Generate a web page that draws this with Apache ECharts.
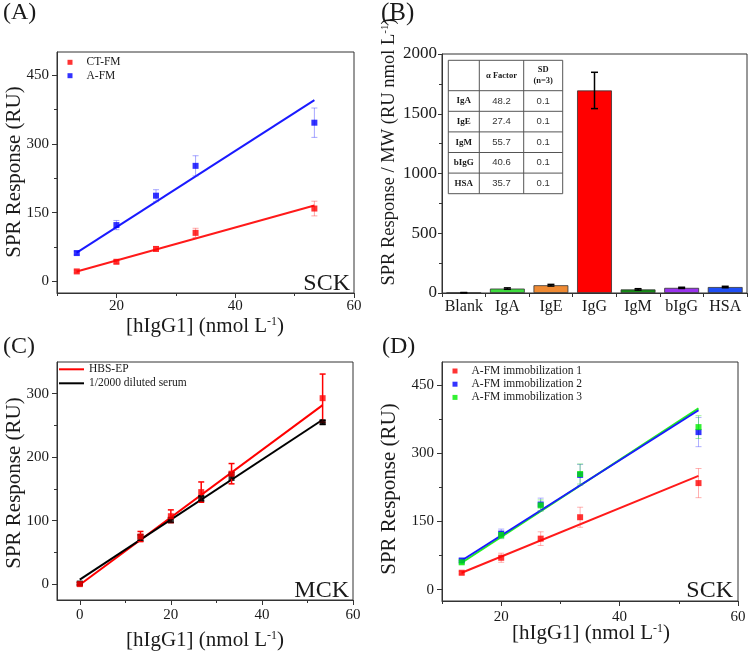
<!DOCTYPE html>
<html><head><meta charset="utf-8">
<script src="https://cdn.jsdelivr.net/npm/echarts@6/dist/echarts.min.js"></script>
<style>html,body{margin:0;padding:0;background:#fff}#c{width:750px;height:655px}</style>
</head><body><div id="c"></div>
<script>
// ---------- DATA ----------
// Panel A
const concA = [13.33, 20, 26.67, 33.33, 53.33];
const ctfmA = [22, 43, 71, 106, 159];
const ctfmAErr = [3, 4, 5, 10, 16];
const afmA = [62, 123, 187, 252, 346];
const afmAErr = [4, 10, 13, 22, 32];
const fitXA = [13.33, 53.33];
const ctfmFitA = [21.9, 165.6];
const afmFitA = [63, 395];
// Panel B
const bCategories = ['Blank', 'IgA', 'IgE', 'IgG', 'IgM', 'bIgG', 'HSA'];
const bValues = [2, 37, 65, 1695, 30, 43, 50];
const bErr = [2, 6, 7, 152, 6, 5, 6];
const tableRows = ['IgA', 'IgE', 'IgM', 'bIgG', 'HSA'];
const alphaFactor = ['48.2', '27.4', '55.7', '40.6', '35.7'];
const sdValues = ['0.1', '0.1', '0.1', '0.1', '0.1'];
// Panel C
const concC = [0, 13.33, 20, 26.67, 33.33, 53.33];
const hbsC = [0, 75, 107, 145, 174, 293];
const hbsCErr = [2, 8, 10, 16, 16, 38];
const serumC = [1, 73, 101, 135, 170, 255];
const serumCErr = [2, 5, 4, 4, 6, 3];
const fitXC = [0, 53.33];
const hbsFitC = [-1, 282];
const serumFitC = [7, 259];
// Panel D
const concD = [13.33, 20, 26.67, 33.33, 53.33];
const imm1 = [37, 70, 112, 159, 234];
const imm1Err = [3, 10, 15, 22, 32];
const imm2 = [64, 123, 187, 252, 346];
const imm2Err = [4, 10, 14, 23, 32];
const imm3 = [60, 120, 185, 254, 357];
const imm3Err = [4, 8, 12, 22, 25];
const fitXD = [13.33, 53.33];
const imm1Fit = [37, 250];
const imm2Fit = [64, 394];
const imm3Fit = [59, 398];
// Tick values
const ticksXA = [20, 40, 60], minorXA = [10, 30, 50];
const ticksYA = [0, 150, 300, 450], minorYA = [75, 225, 375];
const ticksYB = [0, 500, 1000, 1500, 2000], minorYB = [250, 750, 1250, 1750];
const ticksXC = [0, 20, 40, 60], minorXC = [10, 30, 50];
const ticksYC = [0, 100, 200, 300], minorYC = [50, 150, 250];

// ---------- STYLE ----------
const SERIF = '"Liberation Serif", "Times New Roman", serif';
const SANS = '"Liberation Sans", Arial, sans-serif';
const AX = '#333';
const TXT = '#1a1a1a';
const bColors = ['#888888', '#3ddc3d', '#ef8a33', '#ff0000', '#138c13', '#9a33ee', '#1f4ff5'];

const chart = echarts.init(document.getElementById('c'), null, {renderer: 'canvas'});

const grids = [
  {left: 57, top: 52, width: 297, height: 241},
  {left: 442, top: 54, width: 305, height: 239},
  {left: 57, top: 362, width: 296, height: 238},
  {left: 442, top: 362, width: 296, height: 239}
].map(g => Object.assign({show: true, borderColor: AX, borderWidth: 1, backgroundColor: 'transparent'}, g));

function valAxes(dim, gi, min, max, major, minor, lab) {
  const pos = dim === 'x' ? 'bottom' : 'left';
  const main = {
    type: 'value', gridIndex: gi, min, max, position: pos,
    axisLine: {show: true, onZero: false, lineStyle: {color: AX, width: 1}},
    axisTick: {show: true, inside: false, length: lab.tick || 5, customValues: major, lineStyle: {color: AX}},
    axisLabel: {customValues: major, formatter: v => String(v), fontFamily: SERIF, fontSize: lab.fs || 15, color: TXT, margin: lab.margin, showMinLabel: true, showMaxLabel: true},
    splitLine: {show: false}
  };
  const mn = {
    type: 'value', gridIndex: gi, min, max, position: pos, offset: 0,
    axisLine: {show: false, onZero: false},
    axisTick: {show: true, inside: false, length: 3, customValues: minor, lineStyle: {color: AX}},
    axisLabel: {show: false},
    splitLine: {show: false}
  };
  return [main, mn];
}

const xAxes = [
  ...valAxes('x', 0, 10, 60, ticksXA, minorXA, {margin: 6}),
  {type: 'category', gridIndex: 1, data: bCategories, position: 'bottom',
   axisLine: {show: true, onZero: false, lineStyle: {color: AX}},
   axisTick: {show: true, inside: false, length: 4, alignWithLabel: false, lineStyle: {color: AX}},
   axisLabel: {fontFamily: SERIF, fontSize: 16, color: TXT, margin: 6, interval: 0},
   splitLine: {show: false}},
  {type: 'category', gridIndex: 1, data: bCategories, show: false},
  ...valAxes('x', 2, -5, 60, ticksXC, minorXC, {margin: 8}),
  ...valAxes('x', 3, 10, 60, ticksXA, minorXA, {margin: 9})
];
const yAxes = [
  ...valAxes('y', 0, -25, 500, ticksYA, minorYA, {margin: 8}),
  ...valAxes('y', 1, 0, 2000, ticksYB, minorYB, {margin: 5, fs: 17, tick: 4}),
  ...valAxes('y', 2, -25, 350, ticksYC, minorYC, {margin: 8}),
  ...valAxes('y', 3, -25, 500, ticksYA, minorYA, {margin: 8})
];

function errRender(color, cap, width) {
  return function (params, api) {
    const x = api.value(0), lo = api.value(1), hi = api.value(2);
    const p1 = api.coord([x, hi]), p2 = api.coord([x, lo]);
    const h = cap / 2;
    const st = {stroke: color, lineWidth: width};
    return {type: 'group', children: [
      {type: 'line', shape: {x1: p1[0], y1: p1[1], x2: p2[0], y2: p2[1]}, style: st},
      {type: 'line', shape: {x1: p1[0] - h, y1: p1[1], x2: p1[0] + h, y2: p1[1]}, style: st},
      {type: 'line', shape: {x1: p2[0] - h, y1: p2[1], x2: p2[0] + h, y2: p2[1]}, style: st}
    ]};
  };
}
function errSeries(gi, xs, ys, es, color, cap, width, z) {
  return {
    type: 'custom', xAxisIndex: gi * 2, yAxisIndex: gi * 2, z: z || 3,
    renderItem: errRender(color, cap, width), silent: true,
    encode: {x: 0, y: [1, 2]},
    data: xs.map((x, i) => [x, ys[i] - es[i], ys[i] + es[i]])
  };
}
function fitSeries(name, gi, xs, ys, color, width, z) {
  return {
    name, type: 'line', xAxisIndex: gi * 2, yAxisIndex: gi * 2, z: z || 2,
    data: xs.map((x, i) => [x, ys[i]]), symbol: 'none', silent: true,
    lineStyle: {color, width: width || 2}, itemStyle: {color}
  };
}
function ptSeries(name, gi, xs, ys, color, size, z) {
  return {
    name, type: 'scatter', xAxisIndex: gi * 2, yAxisIndex: gi * 2, z: z || 4,
    symbol: 'rect', symbolSize: size || 6,
    data: xs.map((x, i) => [x, ys[i]]), itemStyle: {color}, silent: true
  };
}

const series = [
  // A
  fitSeries('CT-FM fit', 0, fitXA, ctfmFitA, '#ff1a1a'),
  fitSeries('A-FM fit', 0, fitXA, afmFitA, '#1a1aff'),
  errSeries(0, concA, ctfmA, ctfmAErr, 'rgba(255,60,60,0.45)', 6, 1),
  errSeries(0, concA, afmA, afmAErr, 'rgba(60,60,255,0.45)', 6, 1),
  ptSeries('CT-FM', 0, concA, ctfmA, '#ff0000'),
  ptSeries('A-FM', 0, concA, afmA, '#0000ff'),
  // B
  {name: 'bars', type: 'bar', xAxisIndex: 2, yAxisIndex: 2, barWidth: '80%', silent: true,
   data: bValues.map((v, i) => ({value: v, itemStyle: {color: bColors[i]}})),
   itemStyle: {borderColor: '#333', borderWidth: 0.8}},
  errSeries(1, bCategories.map((c, i) => i), bValues, bErr, '#000', 7, 1.5, 5),
  // C
  fitSeries('HBS-EP', 2, fitXC, hbsFitC, '#ff0000', 2, 2),
  fitSeries('1/2000 diluted serum', 2, fitXC, serumFitC, '#000000', 2, 2),
  errSeries(2, concC, serumC, serumCErr, '#000', 6, 1.5, 3),
  ptSeries('serum pts', 2, concC, serumC, '#000000', 6, 4),
  errSeries(2, concC, hbsC, hbsCErr, '#ff0000', 6, 1.5, 3),
  ptSeries('HBS pts', 2, concC, hbsC, '#ff0000', 6, 4),
  // D
  fitSeries('imm1 fit', 3, fitXD, imm1Fit, '#ff1a1a'),
  fitSeries('imm3 fit', 3, fitXD, imm3Fit, '#22ee22'),
  fitSeries('imm2 fit', 3, fitXD, imm2Fit, '#1a1aff'),
  errSeries(3, concD, imm1, imm1Err, 'rgba(255,60,60,0.4)', 6, 1),
  errSeries(3, concD, imm2, imm2Err, 'rgba(60,60,255,0.4)', 6, 1),
  errSeries(3, concD, imm3, imm3Err, 'rgba(40,220,40,0.45)', 6, 1),
  ptSeries('A-FM immobilization 1', 3, concD, imm1, '#ff0000'),
  ptSeries('A-FM immobilization 2', 3, concD, imm2, '#0000ff'),
  ptSeries('A-FM immobilization 3', 3, concD, imm3, '#00ee00')
];

function legendBox(data, left, top, iw, ih, lh, padL, icon) {
  return {
    data, left, top, orient: 'vertical', icon: icon || 'rect', itemWidth: iw, itemHeight: ih,
    itemGap: 0, padding: 0, selectedMode: false,
    textStyle: {fontFamily: SERIF, fontSize: 11.5, color: TXT, lineHeight: lh, padding: [0, 0, 0, padL]}
  };
}
const legends = [
  legendBox(['CT-FM', 'A-FM'], 67.5, 55.6, 5, 5, 13.4, 9),
  legendBox(['HBS-EP', '1/2000 diluted serum'], 59, 362.3, 25, 2, 14, 0),
  legendBox(['A-FM immobilization 1', 'A-FM immobilization 2', 'A-FM immobilization 3'], 452.5, 364.4, 5, 5, 13.2, 9)
];

// ---------- GRAPHIC TEXT ----------
function supStyle(fs) { return {sup: {fontSize: fs, fontFamily: SERIF, fill: TXT, verticalAlign: 'top', lineHeight: fs}}; }
function txt(x, y, text, size, opt) {
  opt = opt || {};
  return {
    type: 'text', x, y, rotation: opt.rot || 0, silent: true,
    style: {
      text, fontFamily: opt.family || SERIF, fontSize: size, fontWeight: opt.weight || 'normal',
      fill: opt.fill || TXT,
      align: opt.align || 'center', textAlign: opt.align || 'center',
      verticalAlign: 'middle', textVerticalAlign: 'middle',
      rich: opt.rich, lineHeight: opt.lh
    }
  };
}
const xTitle = '[hIgG1] (nmol L{sup|-1})';
const yTitle = 'SPR Response (RU)';
const graphics = [
  txt(3, 13, '(A)', 24, {align: 'left'}),
  txt(381, 13, '(B)', 25, {align: 'left'}),
  txt(3, 347, '(C)', 24, {align: 'left'}),
  txt(382, 347, '(D)', 24, {align: 'left'}),
  txt(205, 326, xTitle, 21, {rich: supStyle(12)}),
  txt(205, 640, xTitle, 21, {rich: supStyle(12)}),
  txt(591, 633, xTitle, 21, {rich: supStyle(12)}),
  txt(14, 172, yTitle, 21, {rot: Math.PI / 2}),
  txt(14, 483, yTitle, 21, {rot: Math.PI / 2}),
  txt(389, 489, yTitle, 21, {rot: Math.PI / 2}),
  txt(389, 152, 'SPR Response / MW (RU nmol L{sup|-1})', 18.5, {rot: Math.PI / 2, rich: supStyle(11)}),
  txt(350, 284, 'SCK', 24, {align: 'right'}),
  txt(349, 591, 'MCK', 24, {align: 'right'}),
  txt(733, 591, 'SCK', 24, {align: 'right'})
];
// table in panel B
(function () {
  const x0 = 448.3, x1 = 479.3, x2 = 523.7, x3 = 562.7;
  const y0 = 60.3, hH = 30.4, rH = 20.6;
  const yEnd = y0 + hH + rH * tableRows.length;
  const ls = {stroke: '#555', lineWidth: 1};
  graphics.push({type: 'rect', shape: {x: x0, y: y0, width: x3 - x0, height: yEnd - y0}, style: {fill: '#fff', stroke: '#555', lineWidth: 1}, z: 10});
  [x1, x2].forEach(x => graphics.push({type: 'line', z: 10, shape: {x1: x, y1: y0, x2: x, y2: yEnd}, style: ls}));
  for (let i = 0; i < tableRows.length; i++) {
    const y = y0 + hH + rH * i;
    graphics.push({type: 'line', z: 10, shape: {x1: x0, y1: y, x2: x3, y2: y}, style: ls});
  }
  const hc = y0 + hH / 2;
  const g1 = txt((x1 + x2) / 2, hc, 'α Factor', 8.5, {weight: 'bold'}); g1.z = 11; graphics.push(g1);
  const g2 = txt((x2 + x3) / 2, hc, 'SD\n(n=3)', 8.5, {weight: 'bold', lh: 11}); g2.z = 11; graphics.push(g2);
  tableRows.forEach((r, i) => {
    const yc = y0 + hH + rH * i + rH / 2;
    const a = txt((x0 + x1) / 2, yc, r, 9, {weight: 'bold'}); a.z = 11; graphics.push(a);
    const b = txt((x1 + x2) / 2, yc, alphaFactor[i], 9.5, {family: SANS, fill: '#333'}); b.z = 11; graphics.push(b);
    const c = txt((x2 + x3) / 2, yc, sdValues[i], 9.5, {family: SANS, fill: '#333'}); c.z = 11; graphics.push(c);
  });
})();

chart.setOption({
  animation: false,
  backgroundColor: '#fff',
  grid: grids,
  xAxis: xAxes,
  yAxis: yAxes,
  legend: legends,
  series,
  graphic: {elements: graphics}
});
</script></body></html>
